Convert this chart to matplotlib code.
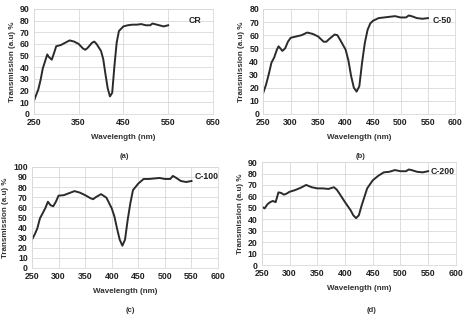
import matplotlib
matplotlib.use("Agg")
import matplotlib.pyplot as plt

plt.rcParams['font.family'] = ['Liberation Sans', 'DejaVu Sans']
plt.rcParams['font.weight'] = 'bold'

# CR
wl_a = [250, 260, 265, 270, 275, 280, 283, 290, 295, 300, 310, 320, 330, 340, 350, 360, 365, 370,
        380, 385, 390, 400, 405, 410, 415, 420, 425, 430, 435, 440, 450, 460, 470, 480, 490, 500,
        510, 515, 520, 530, 540, 550]
tr_a = [11, 21, 29, 39, 45, 51, 49, 46.5, 52, 58, 59, 61, 63, 62, 60, 56, 55, 56.5,
        61, 62, 60, 54, 47, 34, 22, 15, 18, 41, 61, 71, 75, 76, 76.5, 76.5, 77, 76,
        76, 77.5, 77, 76, 75, 76]

# C-50
wl_b = [250, 255, 260, 265, 270, 275, 278, 285, 290, 295, 300, 310, 320, 330, 340, 350, 360, 365,
        370, 380, 385, 390, 400, 405, 410, 415, 420, 425, 430, 435, 440, 445, 450, 460, 470, 480,
        490, 500, 510, 515, 520, 530, 540, 550]
tr_b = [16, 22, 30, 39, 43, 49, 51.5, 48, 50, 55, 58, 59, 60, 62, 61, 59, 55, 55,
        57, 60.5, 60, 56.5, 49, 41, 29, 20, 17, 21, 39, 54, 64, 69, 71, 73, 73.5, 74,
        74.5, 73.5, 73.5, 75, 74.5, 73, 72.5, 73]

# C-100
wl_c = [250, 255, 260, 265, 270, 275, 280, 285, 290, 295, 300, 310, 320, 330, 340, 350, 360, 365,
        370, 380, 390, 400, 405, 410, 415, 420, 425, 430, 435, 440, 450, 460, 470, 480, 490, 500,
        510, 515, 520, 530, 540, 550]
tr_c = [28, 33, 39, 49, 54, 59, 65.5, 62, 61, 65.5, 71.5, 72, 74, 76, 74.5, 72, 69, 68,
        70, 73, 69.5, 59, 51, 39, 28, 22, 28, 47.5, 64, 77, 83.5, 88, 88, 88.5, 89, 88,
        88, 91, 89.5, 86, 85, 86]

# C-200
wl_d = [250, 255, 260, 265, 270, 275, 280, 285, 290, 295, 300, 310, 320, 330, 340, 350, 360, 370,
        380, 385, 390, 400, 410, 415, 420, 425, 430, 440, 450, 460, 470, 480, 490, 500, 510, 515,
        520, 530, 540, 550]
tr_d = [51, 49.5, 53, 55, 56, 55, 63.5, 63, 61.5, 62.5, 64, 65.5, 67.5, 70, 68, 67, 67, 66.5,
        68, 66, 62.5, 55, 48, 43.5, 41, 43.5, 52, 67, 74, 78, 81, 81.5, 83, 82, 82, 83.5,
        83, 81.5, 81, 82]

fig = plt.figure(figsize=(4.7, 3.19), dpi=100)

panels = [
    (wl_a, tr_a, [0.072, 0.643, 0.381, 0.329], (250, 650), range(250, 651, 100), (0, 90), 10, 'CR', (595, 80), '(a)', (124, 157)),
    (wl_b, tr_b, [0.560, 0.643, 0.409, 0.329], (250, 600), range(250, 601, 50), (0, 80), 10, 'C-50', (558, 71), '(b)', (361, 156)),
    (wl_c, tr_c, [0.068, 0.160, 0.396, 0.317], (250, 600), range(250, 601, 50), (0, 100), 10, 'C-100', (555, 90), '(c)', (130, 310)),
    (wl_d, tr_d, [0.557, 0.169, 0.413, 0.323], (250, 600), range(250, 601, 50), (0, 90), 10, 'C-200', (555, 82), '(d)', (372, 311)),
]

for wl, tr, pos, xlim, xticks, ylim, ystep, name, npos, cap, cpos in panels:
    ax = fig.add_axes(pos)
    ax.plot(wl, tr, color='#2b2b2b', lw=1.4)
    ax.set_xlim(*xlim)
    ax.set_ylim(*ylim)
    ax.set_xticks(list(xticks))
    ax.set_yticks(range(ylim[0], ylim[1] + 1, ystep))
    ax.grid(True, color='#d9d9d9', lw=0.6)
    ax.set_axisbelow(True)
    for s in ax.spines.values():
        s.set_color('#d9d9d9')
        s.set_linewidth(0.6)
    ax.tick_params(length=0, labelsize=6.3, pad=3, colors='#222222')
    for lab in ax.get_xticklabels() + ax.get_yticklabels():
        lab.set_fontweight('bold')
    ax.set_xlabel('Wavelength (nm)', fontsize=5.8, fontweight='bold', color='#333333', labelpad=5)
    ax.set_ylabel('Transmission (a.u) %', fontsize=5.8, fontweight='bold', color='#333333', labelpad=3)
    ax.text(npos[0], npos[1], name, fontsize=6.3, fontweight='bold', ha='left', va='center', color='#222222')
    fig.text(cpos[0] / 470, 1 - cpos[1] / 319, cap, fontsize=5.5, ha='center', va='center', color='#333333')

fig.savefig('out.png', dpi=100)
